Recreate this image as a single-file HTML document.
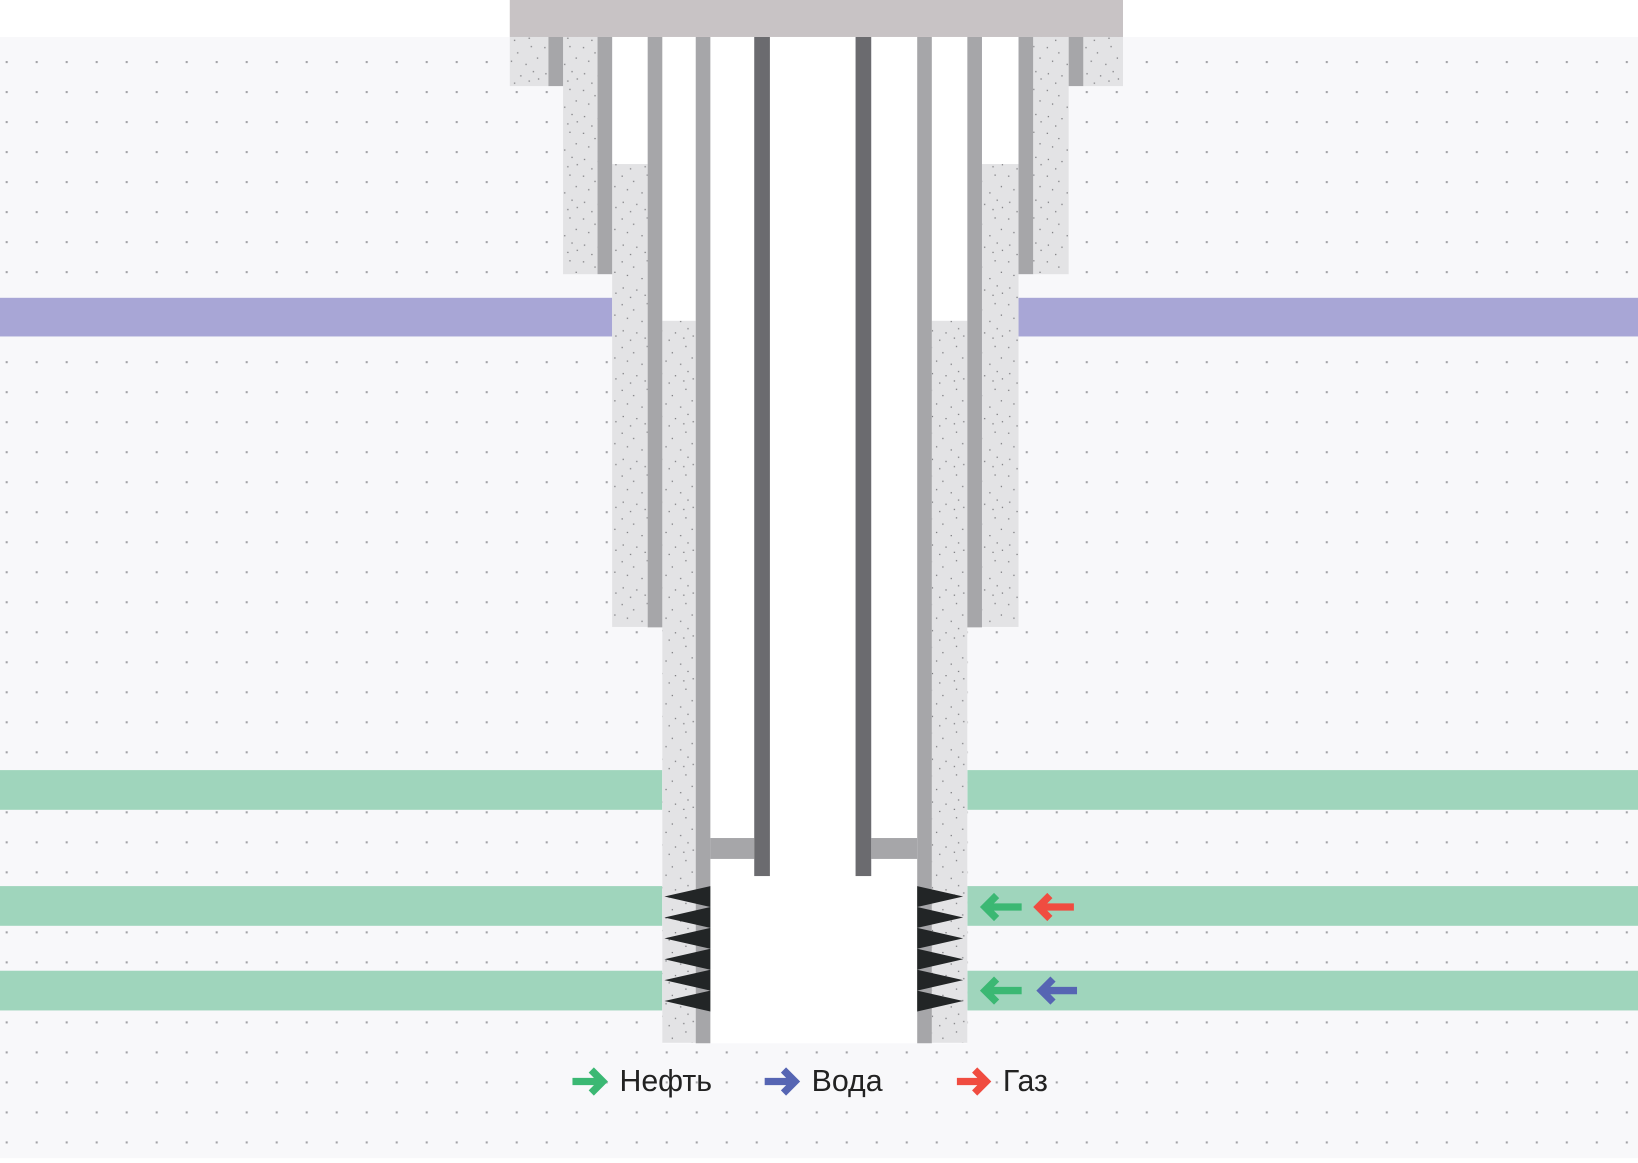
<!DOCTYPE html>
<html><head><meta charset="utf-8"><style>html,body{margin:0;padding:0;background:#fff}svg{display:block}</style></head>
<body>
<svg width="1638" height="1163" viewBox="0 0 1568 1113" preserveAspectRatio="none" xmlns="http://www.w3.org/2000/svg">
<defs>
<pattern id="dots" x="5.4" y="58.4" width="28.72" height="28.72" patternUnits="userSpaceOnUse">
<rect x="0" y="0" width="2" height="2" fill="#a3a3a7"/>
</pattern>
<pattern id="cem" x="0" y="0" width="37" height="41" patternUnits="userSpaceOnUse">
<rect width="37" height="41" fill="#e3e3e5"/>
<g fill="#77777b">
<rect x="3" y="4" width="1.2" height="1.2"/><rect x="14" y="9" width="1.2" height="1.2"/><rect x="27" y="3" width="1.2" height="1.2"/>
<rect x="8" y="17" width="1.2" height="1.2"/><rect x="22" y="20" width="1.2" height="1.2"/><rect x="33" y="14" width="1.2" height="1.2"/>
<rect x="4" y="29" width="1.2" height="1.2"/><rect x="17" y="31" width="1.2" height="1.2"/><rect x="29" y="27" width="1.2" height="1.2"/>
<rect x="11" y="38" width="1.2" height="1.2"/><rect x="25" y="36" width="1.2" height="1.2"/><rect x="34" y="34" width="1.2" height="1.2"/>
</g>
</pattern>
</defs>
<rect x="0" y="0" width="1568" height="1113" fill="#fff"/>
<rect x="0" y="35.4" width="1568" height="1073" fill="#f8f8fa"/>
<rect x="0" y="35.4" width="1568" height="1073" fill="url(#dots)"/>
<rect x="0" y="285" width="586" height="37" fill="#a8a6d6"/>
<rect x="975" y="285" width="593" height="37" fill="#a8a6d6"/>
<g fill="#9fd5bc">
<rect x="0" y="737" width="634" height="38"/><rect x="926" y="737" width="642" height="38"/>
<rect x="0" y="848" width="634" height="38"/><rect x="926" y="848" width="642" height="38"/>
<rect x="0" y="929" width="634" height="38"/><rect x="926" y="929" width="642" height="38"/>
</g>
<rect x="488" y="0" width="587" height="35.4" fill="#c8c3c5"/>
<rect x="525" y="35.4" width="512" height="47" fill="#fff"/>
<rect x="572" y="35.4" width="417" height="227" fill="#fff"/>
<rect x="620" y="35.4" width="320" height="565" fill="#fff"/>
<rect x="634" y="35.4" width="292" height="963" fill="#fff"/>
<g fill="url(#cem)">
<rect x="488" y="35.4" width="37" height="47"/>
<rect x="539" y="35.4" width="33" height="227"/>
<rect x="586" y="157" width="34" height="443"/>
<rect x="634" y="307" width="32" height="691"/>
<rect x="1037" y="35.4" width="38" height="47"/>
<rect x="989" y="35.4" width="34" height="227"/>
<rect x="940" y="157" width="35" height="443"/>
<rect x="892" y="307" width="34" height="691"/>
</g>
<g fill="#a6a6a9">
<rect x="525" y="35.4" width="14" height="47"/>
<rect x="572" y="35.4" width="14" height="227"/>
<rect x="620" y="35.4" width="14" height="565"/>
<rect x="666" y="35.4" width="14" height="963"/>
<rect x="1023" y="35.4" width="14" height="47"/>
<rect x="975" y="35.4" width="14" height="227"/>
<rect x="926" y="35.4" width="14" height="565"/>
<rect x="878" y="35.4" width="14" height="963"/>
<rect x="680" y="802" width="42" height="20"/>
<rect x="834" y="802" width="44" height="20"/>
</g>
<rect x="722" y="35.4" width="15" height="803" fill="#6b6b6f"/>
<rect x="819" y="35.4" width="15" height="803" fill="#6b6b6f"/>
<g fill="#222526">
<polygon points="680,848 636,858 680,868"/><polygon points="680,868 636,878 680,888"/>
<polygon points="680,888 636,898 680,908"/><polygon points="680,908 636,918 680,928"/>
<polygon points="680,928 636,938 680,948"/><polygon points="680,948 636,958 680,968"/>
<polygon points="878,848 922,858 878,868"/><polygon points="878,868 922,878 878,888"/>
<polygon points="878,888 922,898 878,908"/><polygon points="878,908 922,918 878,928"/>
<polygon points="878,928 922,938 878,948"/><polygon points="878,948 922,958 878,968"/>
</g>
<g fill="none" stroke-width="7" stroke-linecap="butt" stroke-linejoin="miter">
<g stroke="#3bb873"><path d="M978 868H943M954 857L943 868L954 879"/><path d="M978 948H943M954 937L943 948L954 959"/></g>
<path stroke="#f04c40" d="M1028 868H994M1005 857L994 868L1005 879"/>
<path stroke="#5665b3" d="M1031 948H997M1008 937L997 948L1008 959"/>
<path stroke="#3bb873" d="M548 1035H577M566 1024L577 1035L566 1046"/>
<path stroke="#5665b3" d="M732 1035H761M750 1024L761 1035L750 1046"/>
<path stroke="#f04c40" d="M916 1035H944M933 1024L944 1035L933 1046"/>
</g>
<g font-family="Liberation Sans, sans-serif" font-size="29" fill="#222">
<text x="593" y="1044">Нефть</text>
<text x="777" y="1044">Вода</text>
<text x="960" y="1044">Газ</text>
</g>
</svg>
</body></html>
